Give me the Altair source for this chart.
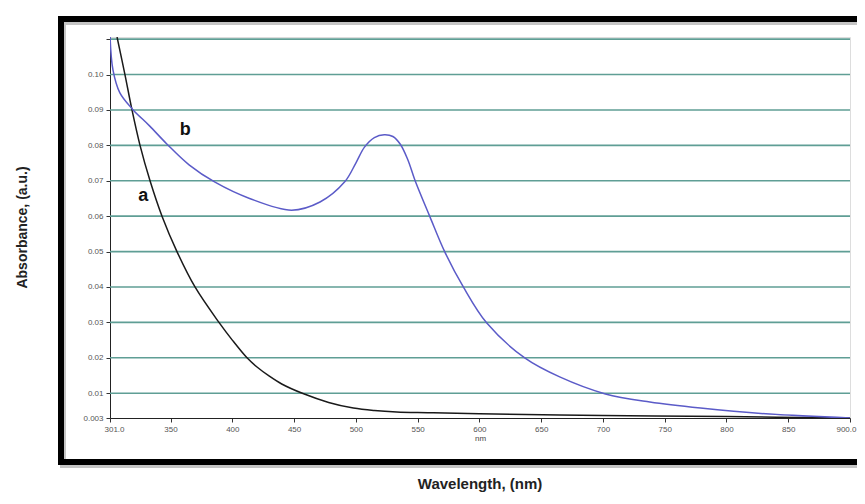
import altair as alt
import pandas as pd

# Curve a (black)
a_wl = [306.7, 313.1, 318.8, 325.3, 333.4, 343.1, 355.2, 369.8, 389.2, 400, 411.9, 420, 430, 440, 457.2, 478, 498, 515, 533, 560, 600, 700, 800, 900]
a_ab = [0.1106, 0.1000, 0.0900, 0.0800, 0.0700, 0.0600, 0.0500, 0.0400, 0.0300, 0.0250, 0.0200, 0.0174, 0.0148, 0.0126, 0.0099, 0.0074, 0.0058, 0.0051, 0.0047, 0.0045, 0.0042, 0.0037, 0.0034, 0.0030]

# Curve b (blue)
b_wl = [301, 303.4, 309, 319, 333, 347, 365, 386, 414, 448, 471, 491, 500, 507, 515, 523, 530, 536, 542, 548, 560, 572, 587, 606, 637, 665, 702, 738, 779, 835, 900]
b_ab = [0.1110, 0.1013, 0.0948, 0.0903, 0.0855, 0.0804, 0.0745, 0.0696, 0.0650, 0.0617, 0.0640, 0.0697, 0.0750, 0.0795, 0.0822, 0.0830, 0.0825, 0.0803, 0.0760, 0.0700, 0.0598, 0.0499, 0.0400, 0.0298, 0.0199, 0.0146, 0.0098, 0.0075, 0.0058, 0.0041, 0.0030]

# Curve labels
lab_text = ["b", "a"]
lab_wl = [362, 328]
lab_ab = [0.0844, 0.0657]

x_ticks = [301, 350, 400, 450, 500, 550, 600, 650, 700, 750, 800, 850, 900]
y_ticks = [0.003, 0.01, 0.02, 0.03, 0.04, 0.05, 0.06, 0.07, 0.08, 0.09, 0.10, 0.11]
grid_vals = [0.01, 0.02, 0.03, 0.04, 0.05, 0.06, 0.07, 0.08, 0.09, 0.10, 0.11]

df_a = pd.DataFrame({"wl": a_wl, "ab": a_ab})
df_b = pd.DataFrame({"wl": b_wl, "ab": b_ab})
df_lab = pd.DataFrame({"t": lab_text, "wl": lab_wl, "ab": lab_ab})
df_grid = pd.DataFrame({"g": grid_vals})

xs = alt.Scale(domain=[301, 900], nice=False, zero=False)
ys = alt.Scale(domain=[0.003, 0.1106], nice=False, zero=False)

x_axis = alt.Axis(
    values=x_ticks, grid=False, title="nm", titleFontSize=8, titleFontWeight="normal",
    titleColor="#444", titlePadding=1,
    labelExpr="datum.value == 301 ? '301.0' : datum.value == 900 ? '900.0' : datum.label",
    labelFontSize=8, labelColor="#555", tickSize=4, tickColor="#333", domainColor="#222",
    labelPadding=3, labelFlush=True, labelFlushOffset=6, labelOverlap=False,
)
y_axis = alt.Axis(
    values=y_ticks, grid=False,
    title="Absorbance, (a.u.)", titleFontSize=14, titleFontWeight="bold", titleColor="#222",
    titleX=-88, titleY=190, titleAngle=-90, titleAlign="center", titleBaseline="middle",
    labelExpr="datum.value > 0.105 ? '' : datum.value < 0.005 ? '0.003' : format(datum.value, '.2f')",
    labelFontSize=8, labelColor="#555", tickSize=4, tickColor="#333", domainColor="#222",
    labelPadding=3, labelOverlap=False,
)


def X(field):
    return alt.X(field, type="quantitative", scale=xs, axis=x_axis)


def Y(field):
    return alt.Y(field, type="quantitative", scale=ys, axis=y_axis)


frame_shadow = alt.Chart(df_a).mark_rect(
    fill=None, stroke="#c4c4c4", strokeWidth=6, opacity=0.8
).encode(x=alt.value(-47), x2=alt.value(762), y=alt.value(-15), y2=alt.value(428))

frame = alt.Chart(df_a).mark_rect(
    fill=None, stroke="#000000", strokeWidth=6
).encode(x=alt.value(-49), x2=alt.value(760), y=alt.value(-18), y2=alt.value(425))

grid = alt.Chart(df_grid).mark_rule(color="#5f9e95", strokeWidth=1.6).encode(
    y=Y("g"),
    x=alt.value(0), x2=alt.value(740),
)

line_a = alt.Chart(df_a).mark_line(
    color="#1a1a1a", strokeWidth=1.5, interpolate="catmull-rom", clip=True
).encode(x=X("wl"), y=Y("ab"))

line_b = alt.Chart(df_b).mark_line(
    color="#5b5bc8", strokeWidth=1.5, interpolate="catmull-rom", clip=True
).encode(x=X("wl"), y=Y("ab"))

labels = alt.Chart(df_lab).mark_text(
    font="Liberation Sans", fontSize=18, fontWeight="bold", color="#111"
).encode(x=X("wl"), y=Y("ab"), text="t:N")

chart = alt.layer(frame_shadow, frame, grid, line_a, line_b, labels).properties(
    width=740, height=381,
    autosize=alt.AutoSizeParams(type="none"),
    padding={"left": 102, "top": 29, "right": 7, "bottom": 78},
    title=alt.TitleParams(
        "Wavelength, (nm)", orient="bottom", anchor="middle", fontSize=15,
        fontWeight="bold", color="#222", font="Liberation Sans", offset=9,
    ),
).configure_view(stroke=None).configure_axis(
    labelFont="Liberation Sans", titleFont="Liberation Sans"
).configure(background="white")

chart.save("out.html", embed_options={"renderer": "svg", "actions": False})
